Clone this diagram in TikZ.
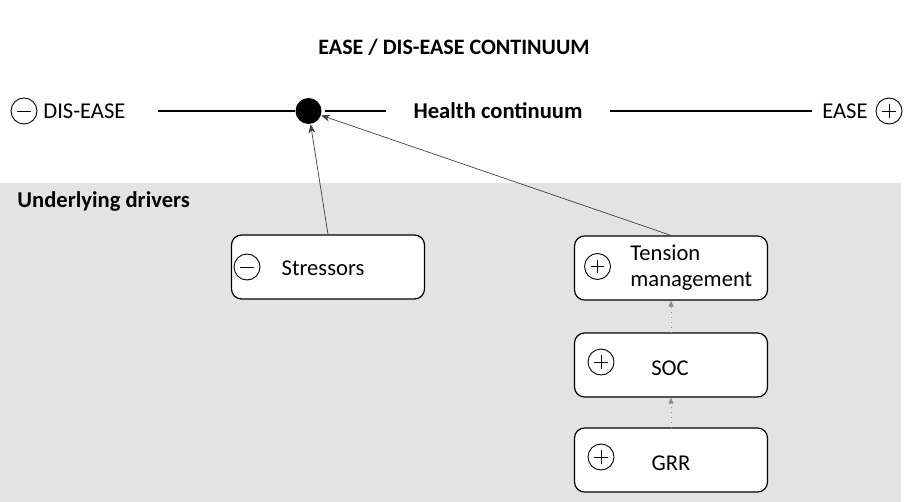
\documentclass[tikz,border=0pt]{standalone}
\usepackage{fontspec}
\setmainfont{Carlito}
\usetikzlibrary{arrows.meta}

\tikzset{
    driver/.style={draw, rounded corners=5pt, fill=white, line width=0.6pt,
        minimum width=96.5pt, minimum height=32pt},
    signminus/.style={circle, draw, line width=0.45pt, minimum size=13pt, inner sep=0pt,
        path picture={\draw[line width=0.45pt] ([xshift=3.2pt]path picture bounding box.west)
            -- ([xshift=-3.2pt]path picture bounding box.east);}},
    signplus/.style={circle, draw, line width=0.45pt, minimum size=13pt, inner sep=0pt,
        path picture={\draw[line width=0.45pt] ([xshift=3.2pt]path picture bounding box.west)
            -- ([xshift=-3.2pt]path picture bounding box.east);
            \draw[line width=0.45pt] ([yshift=-3.2pt]path picture bounding box.north)
            -- ([yshift=3.2pt]path picture bounding box.south);}},
    influence/.style={-{Stealth[length=4.5pt,width=3.5pt]}, line width=0.35pt, black!75},
    feeds/.style={-{Triangle[length=3pt,width=2.5pt]}, dotted, line width=0.45pt, black!45},
}

\begin{document}
\begin{tikzpicture}[x=0.5pt, y=-0.5pt, font=\fontsize{11.3}{13}\selectfont]
    \useasboundingbox (0,0) rectangle (909,502);

    % Background of the drivers
    \fill[black!11] (0,183) rectangle (901,502);

    % Title
    \node (title) at (454,47) {\fontsize{11}{13}\selectfont\bfseries EASE / DIS-EASE CONTINUUM};

    % Health continuum
    \node (disease) [anchor=west, inner sep=0pt] at (43,111) {DIS-EASE};
    \node (dissign) [signminus] at (24,111) {};
    \node (ease) [anchor=east, inner sep=0pt] at (868,111) {EASE};
    \node (easesign) [signplus] at (889,111) {};
    \node (state) [circle, fill=black, minimum size=13pt, inner sep=0pt] at (308.5,111) {};
    \node (health) [fill=white, inner xsep=13.5pt] at (498,111) {\bfseries Health continuum};
    \coordinate (lstart) at (158,111);
    \coordinate (rend) at (812,111);
    \draw[line width=1.1pt] (lstart) -- (state);
    \draw[line width=1.1pt, shorten <=1.5pt] (state) -- (health.west);
    \draw[line width=1.1pt] (health.east) -- (rend);

    % Underlying drivers
    \node (drivers) [anchor=west, inner sep=0pt] at (17,201) {\bfseries Underlying drivers};

    \node (stressors) [driver] at (328,267) {};
    \node (stresstext) at (323,268) {Stressors};
    \node (stresssign) [signminus] at (247,267) {};

    \node (tension) [driver] at (671,268) {};
    \node (tensiontext) [anchor=west, align=left, inner sep=0pt] at (630,268) {Tension\\management};
    \node (tensionsign) [signplus] at (597.5,266.5) {};

    \node (soc) [driver] at (671,365) {};
    \node (soctext) at (670,368) {SOC};
    \node (socsign) [signplus] at (601,362) {};

    \node (grr) [driver] at (671,460) {};
    \node (grrtext) at (671,463) {GRR};
    \node (grrsign) [signplus] at (601,457) {};

    % Influence on the health state
    \draw[influence] (stressors.north) -- (state);
    \draw[influence] (tension.north) -- (state);

    % Resource chain
    \foreach \a/\b in {grr/soc, soc/tension} {
        \draw[feeds] (\a.north) -- (\b.south);
    }
\end{tikzpicture}
\end{document}
